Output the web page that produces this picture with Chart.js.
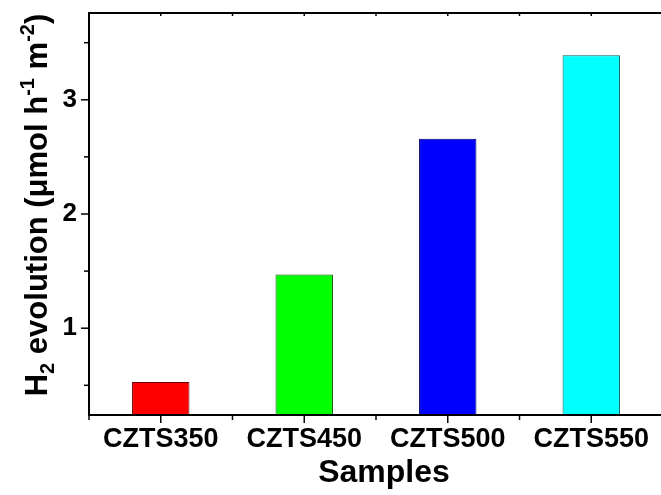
<!DOCTYPE html>
<html>
<head>
<meta charset="utf-8">
<script src="https://cdn.jsdelivr.net/npm/chart.js@4.4.0/dist/chart.umd.min.js"></script>
<style>
  html, body { margin: 0; padding: 0; background: #fff; overflow: hidden; }
  #wrap { width: 661px; height: 495px; overflow: hidden; }
</style>
</head>
<body>
<div id="wrap"><canvas id="chart" width="666" height="495"></canvas></div>
<script>
// data
const samples = ["CZTS350", "CZTS450", "CZTS500", "CZTS550"];
const h2Rate = [0.53, 1.47, 2.66, 3.39];
const fillColors = ["#ff0000", "#00ff00", "#0000ff", "#00ffff"];
const edgeColors = ["#600000", "#005000", "#000060", "#005a5a"];
const yRange = [0.24, 3.76];
const xTitle = "Samples";
// y title pieces: [text, 0 normal / -1 subscript / 1 superscript]
const yTitleParts = [["H", 0], ["2", -1], [" evolution (\u03bcmol h", 0], ["-1", 1], [" m", 0], ["-2", 1], [")", 0]];

const FONT = "'Liberation Sans', Arial, sans-serif";

// axis frame, tick marks and axis titles
const frame = {
  id: "frame",
  afterDraw(chart) {
    const { ctx, chartArea: a, scales: { x, y } } = chart;
    ctx.save();
    ctx.strokeStyle = "#000";
    ctx.lineWidth = 2;
    ctx.beginPath();
    ctx.moveTo(a.right, a.top);
    ctx.lineTo(a.left, a.top);
    ctx.lineTo(a.left, a.bottom);
    ctx.lineTo(a.right, a.bottom);
    ctx.stroke();

    ctx.lineWidth = 1.5;
    // y ticks (major on integers, minor on halves)
    y.ticks.forEach(t => {
      const v = t.value;
      if (Math.abs(v * 2 - Math.round(v * 2)) > 1e-6) return;
      const major = Math.abs(v - Math.round(v)) < 1e-6;
      const py = y.getPixelForValue(v);
      ctx.beginPath();
      ctx.moveTo(a.left - (major ? 8 : 5), py);
      ctx.lineTo(a.left, py);
      ctx.stroke();
    });
    // x ticks
    const step = x.getPixelForValue(1) - x.getPixelForValue(0);
    for (let i = 0; i <= samples.length; i++) {
      const half = x.getPixelForValue(0) + (i - 0.5) * step;
      ctx.beginPath();
      ctx.moveTo(half, a.bottom);
      ctx.lineTo(half, a.bottom + 5);
      ctx.moveTo(half, a.top);
      ctx.lineTo(half, a.top + 3);
      ctx.stroke();
      if (i < samples.length) {
        const px = x.getPixelForValue(i);
        ctx.beginPath();
        ctx.moveTo(px, a.bottom);
        ctx.lineTo(px, a.bottom + 8);
        ctx.moveTo(px, a.top);
        ctx.lineTo(px, a.top + 3);
        ctx.stroke();
      }
    }

    // x title
    ctx.fillStyle = "#000";
    ctx.font = "bold 32px " + FONT;
    ctx.textAlign = "center";
    ctx.textBaseline = "alphabetic";
    ctx.fillText(xTitle, 384, 482);

    // y title, rotated, with sub/superscripts
    const big = "bold 31px " + FONT, small = "bold 20px " + FONT;
    ctx.translate(47, 205);
    ctx.rotate(-Math.PI / 2);
    ctx.textAlign = "left";
    let total = 0;
    yTitleParts.forEach(p => { ctx.font = p[1] ? small : big; total += ctx.measureText(p[0]).width; });
    let cx = -total / 2;
    yTitleParts.forEach(p => {
      ctx.font = p[1] ? small : big;
      const dy = p[1] === -1 ? 7 : (p[1] === 1 ? -13 : 0);
      ctx.fillText(p[0], cx, dy);
      cx += ctx.measureText(p[0]).width;
    });
    ctx.restore();
  }
};

new Chart(document.getElementById("chart"), {
  type: "bar",
  data: {
    labels: samples,
    datasets: [{
      data: h2Rate,
      backgroundColor: fillColors,
      borderColor: edgeColors,
      borderWidth: 1,
      barPercentage: 0.8,
      categoryPercentage: 0.5
    }]
  },
  options: {
    responsive: false,
    animation: false,
    layout: { padding: { top: 13, right: 3, left: 0, bottom: 0 } },
    plugins: { legend: { display: false }, tooltip: { enabled: false } },
    scales: {
      x: {
        grid: { display: false, drawTicks: false },
        border: { display: false },
        ticks: { color: "#000", padding: 8, maxRotation: 0, font: { family: FONT, size: 27, weight: "bold" } },
        afterFit: s => { s.height = 80; s.paddingLeft = 0; s.paddingRight = 0; }
      },
      y: {
        min: yRange[0],
        max: yRange[1],
        grid: { display: false, drawTicks: false },
        border: { display: false },
        ticks: {
          stepSize: 0.5,
          color: "#000",
          padding: 12,
          font: { family: FONT, size: 26, weight: "bold" },
          callback: v => (Math.abs(v - Math.round(v)) < 1e-6 ? String(Math.round(v)) : "")
        },
        afterFit: s => { s.width = 89; s.paddingTop = 0; s.paddingBottom = 0; }
      }
    }
  },
  plugins: [frame]
});
</script>
</body>
</html>
